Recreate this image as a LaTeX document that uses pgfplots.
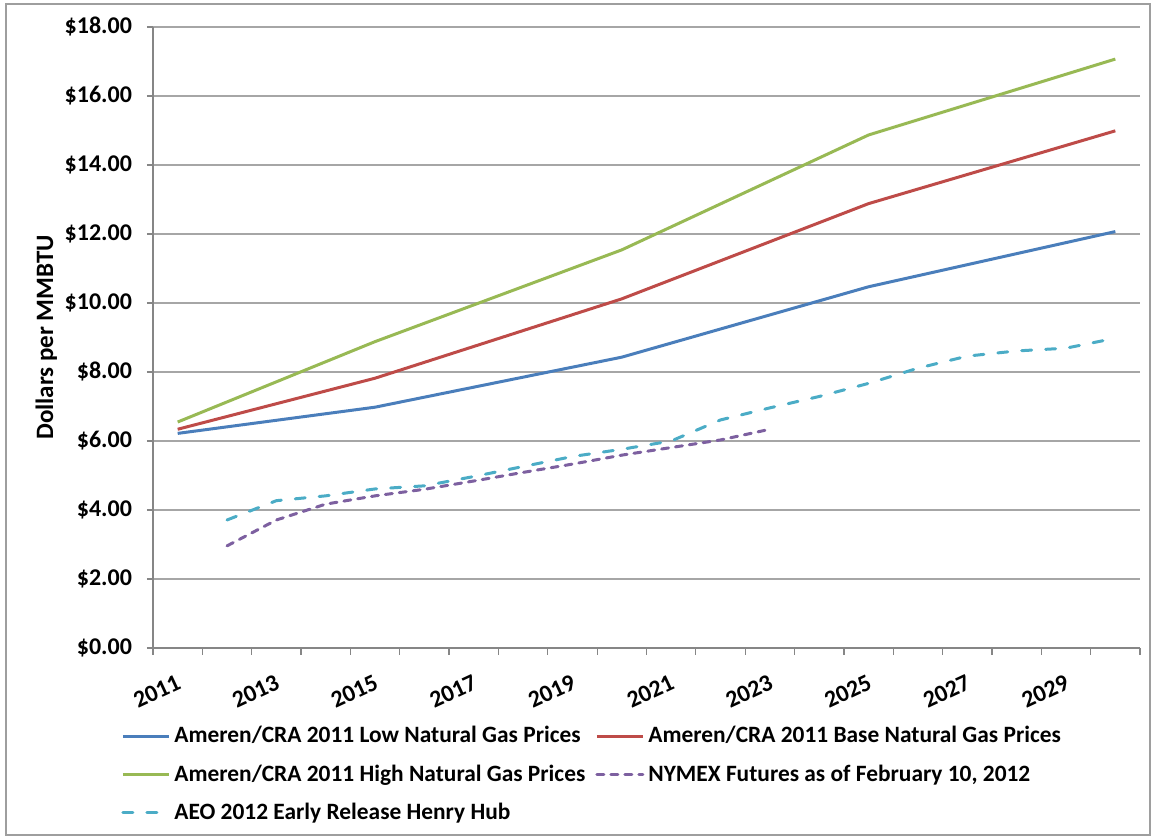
\documentclass[border=0pt]{standalone}
\usepackage{fontspec}
\setmainfont{Carlito}
\usepackage{pgfplots}
\pgfplotsset{compat=1.18}
\definecolor{cLow}{HTML}{4A7EBB}
\definecolor{cBase}{HTML}{BE4B48}
\definecolor{cHigh}{HTML}{98B954}
\definecolor{cNym}{HTML}{7D60A0}
\definecolor{cAeo}{HTML}{4BACC6}
\definecolor{cGrid}{HTML}{A6A6A6}
\definecolor{cAxis}{HTML}{868686}
\begin{document}
\begin{tikzpicture}
\useasboundingbox (-76.5pt,-95pt) rectangle (500pt,324pt);
\draw[cAxis!80, line width=0.6pt] (-73.5pt,-93.5pt) rectangle (498.5pt,322pt);
\begin{axis}[
  scale only axis,
  width=493.5pt, height=310.5pt,
  xmin=-0.5, xmax=19.5, ymin=0, ymax=18,
  axis x line*=bottom, axis y line*=left,
  axis line style={cAxis, line width=0.8pt, -},
  xtick={0,2,...,18},
  xticklabels={2011,2013,2015,2017,2019,2021,2023,2025,2027,2029},
  major x tick style={draw=none},
  minor xtick={-0.5,0.5,...,19.5},
  minor x tick style={cAxis, line width=0.6pt},
  minor tick length=3.5pt,
  tick align=outside,
  ytick={0,2,...,18},
  yticklabels={\$0.00,\$2.00,\$4.00,\$6.00,\$8.00,\$10.00,\$12.00,\$14.00,\$16.00,\$18.00},
  major tick length=3pt,
  y tick style={cAxis, line width=0.6pt},
  ymajorgrids,
  major grid style={cGrid, line width=0.8pt},
  tick label style={font=\fontsize{12}{14}\selectfont\bfseries},
  xticklabel style={rotate=25, anchor=north east, inner sep=0pt, yshift=-8.5pt, xshift=-5pt},
  yticklabel style={xshift=-4pt},
  ylabel={Dollars per MMBTU},
  ylabel style={font=\fontsize{12.5}{14}\selectfont\bfseries, yshift=-3pt},
  legend columns=2,
  legend cell align=left,
  legend style={draw=none, fill=none, at={(0,0)}, anchor=north west, xshift=-19pt, yshift=-35pt,
    font=\fontsize{11.7}{14}\selectfont\bfseries, row sep=5.5pt,
    /tikz/every even column/.append style={column sep=3pt}},
  legend image code/.code={\draw[#1] (0pt,0pt) -- (23pt,0pt);},
]
\addplot[cLow, line width=1.5pt] coordinates {(0,6.22)(4,6.98)(9,8.43)(14,10.47)(19,12.07)};
\addlegendentry{Ameren/CRA 2011 Low Natural Gas Prices}
\addplot[cBase, line width=1.5pt] coordinates {(0,6.34)(4,7.82)(9,10.12)(14,12.88)(19,14.99)};
\addlegendentry{Ameren/CRA 2011 Base Natural Gas Prices}
\addplot[cHigh, line width=1.5pt] coordinates {(0,6.55)(4,8.88)(9,11.54)(14,14.87)(19,17.07)};
\addlegendentry{Ameren/CRA 2011 High Natural Gas Prices}
\addplot[cNym, line width=1.5pt, dash pattern=on 3.5pt off 3.5pt, line cap=round] coordinates {(1,2.96)(2,3.71)(3,4.17)(4,4.41)(5,4.60)(6,4.84)(7,5.09)(8,5.33)(9,5.59)(10,5.81)(11,6.03)(12,6.34)};
\addlegendentry{NYMEX Futures as of February 10, 2012}
\addplot[cAeo, line width=1.5pt, dash pattern=on 5pt off 7pt, line cap=round] coordinates {(1,3.71)(2,4.27)(3,4.41)(4,4.61)(5,4.70)(6,4.97)(7,5.26)(8,5.55)(9,5.76)(10,6.00)(11,6.61)(12,6.96)(13,7.29)(14,7.67)(15,8.11)(16,8.46)(17,8.61)(18,8.69)(19,8.98)};
\addlegendentry{AEO 2012 Early Release Henry Hub}
\end{axis}
\end{tikzpicture}
\end{document}
